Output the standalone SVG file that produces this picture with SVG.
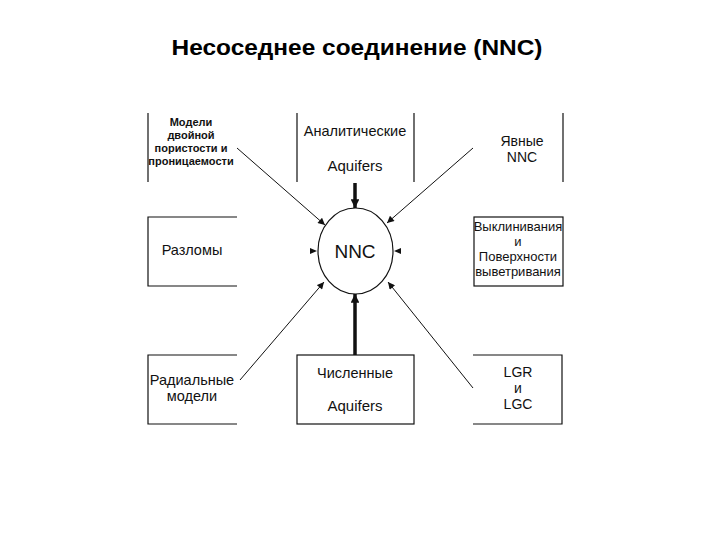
<svg xmlns="http://www.w3.org/2000/svg" width="720" height="540" viewBox="0 0 720 540">
<defs>
<style>
.t{font-family:"Liberation Sans",Arial,sans-serif;fill:#111;text-anchor:middle}
.b{fill:none;stroke:#111;stroke-width:1.2}
.c{stroke:#111;stroke-width:1}
.k{stroke:#111;stroke-width:3.5}
</style>
<marker id="a" viewBox="0 0 10 10" refX="10" refY="5" markerWidth="8" markerHeight="7" orient="auto" markerUnits="userSpaceOnUse"><path d="M0,0L10,5L0,10z" fill="#111"/></marker>
<marker id="ak" viewBox="0 0 10 10" refX="10" refY="5" markerWidth="3" markerHeight="2.5" orient="auto"><path d="M0,0L10,5L0,10z" fill="#111"/></marker>
</defs>
<rect width="720" height="540" fill="#fff"/>
<text x="357" y="55" style="font-family:'Liberation Sans',Arial,sans-serif;font-weight:bold;font-size:22px;fill:#000;text-anchor:middle" textLength="371" lengthAdjust="spacingAndGlyphs">Несоседнее соединение (NNC)</text>

<g id="connectors">
<line class="c" x1="237" y1="148" x2="325" y2="225" marker-end="url(#a)"/>
<line class="c" x1="473" y1="148" x2="387" y2="223" marker-end="url(#a)"/>
<line class="c" x1="240" y1="380" x2="324" y2="282" marker-end="url(#a)"/>
<line class="c" x1="473" y1="388" x2="388" y2="282" marker-end="url(#a)"/>
<line class="k" x1="355" y1="183" x2="355" y2="208" marker-end="url(#ak)"/>
<line class="k" x1="355" y1="355" x2="355" y2="294" marker-end="url(#ak)"/>
<path d="M310,248L317,251L310,254z" fill="#111"/>
<path d="M401,248L394,251L401,254z" fill="#111"/>
</g>

<g id="nnc">
<ellipse cx="355.5" cy="251" rx="37.5" ry="43" fill="#fff" stroke="#111" stroke-width="1.2"/>
<text class="t" x="355" y="258" font-size="19">NNC</text>
</g>

<g id="dual">
<path class="b" d="M148,113V182"/>
<text class="t" x="191" y="126" font-size="11" font-weight="bold">Модели</text>
<text class="t" x="191" y="139" font-size="11" font-weight="bold">двойной</text>
<text class="t" x="191" y="152" font-size="11" font-weight="bold">пористости и</text>
<text class="t" x="191" y="165" font-size="11" font-weight="bold">проницаемости</text>
</g>

<g id="analytic">
<path class="b" d="M297,113V182M414,113V182"/>
<text class="t" x="355" y="136" font-size="14.5">Аналитические</text>
<text class="t" x="355" y="171" font-size="15">Aquifers</text>
</g>

<g id="explicit">
<path class="b" d="M563,113V182"/>
<text class="t" x="522" y="146" font-size="14">Явные</text>
<text class="t" x="522" y="162" font-size="14">NNC</text>
</g>

<g id="faults">
<path class="b" d="M237,217H148V286H237"/>
<text class="t" x="192" y="255" font-size="14.5">Разломы</text>
</g>

<g id="pinchout">
<rect class="b" x="474" y="217" width="89" height="69"/>
<text class="t" x="518" y="231" font-size="13">Выклинивания</text>
<text class="t" x="518" y="246" font-size="13">и</text>
<text class="t" x="518" y="261" font-size="13">Поверхности</text>
<text class="t" x="518" y="276" font-size="13">выветривания</text>
</g>

<g id="radial">
<path class="b" d="M237,355H148V424H237"/>
<text class="t" x="192" y="385" font-size="14.5">Радиальные</text>
<text class="t" x="192" y="401" font-size="14.5">модели</text>
</g>

<g id="numeric">
<rect class="b" x="297" y="355" width="117" height="69"/>
<text class="t" x="355" y="378" font-size="14.5">Численные</text>
<text class="t" x="355" y="411" font-size="15">Aquifers</text>
</g>

<g id="lgr">
<path class="b" d="M473,355H562V424H473"/>
<text class="t" x="518" y="377" font-size="14">LGR</text>
<text class="t" x="518" y="393" font-size="14">и</text>
<text class="t" x="518" y="409" font-size="14">LGC</text>
</g>
</svg>
